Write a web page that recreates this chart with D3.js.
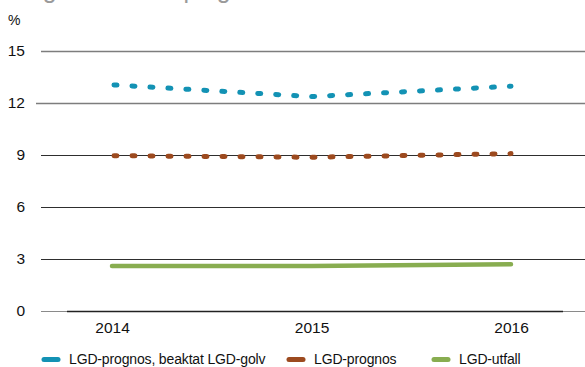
<!DOCTYPE html>
<html>
<head>
<meta charset="utf-8">
<script src="https://cdn.jsdelivr.net/npm/d3@7"></script>
<style>
  html, body { margin: 0; padding: 0; background: #fff; }
  svg { display: block; }
  text { font-family: "Liberation Sans", Arial, Helvetica, sans-serif; fill: #111; }
</style>
</head>
<body>
<svg id="chart" width="585" height="367"></svg>
<script>
// Years on the x axis
const years = [2014, 2015, 2016];
// LGD forecast taking the LGD floor into account (%)
const prognosGolv = [13.05, 12.37, 12.97];
// LGD forecast (%)
const prognos = [8.96, 8.87, 9.08];
// Realised LGD (%)
const utfall = [2.6, 2.6, 2.7];
// Y tick values
const yTicks = [0, 3, 6, 9, 12, 15];
// Legend labels
const seriesNames = ["LGD-prognos, beaktat LGD-golv", "LGD-prognos", "LGD-utfall"];
const seriesColors = ["#1392b4", "#9c4a1f", "#88ad50"];

const svg = d3.select("#chart");
const W = 585;

const x = d3.scaleLinear().domain([2014, 2016]).range([112, 511]);
const y = d3.scaleLinear().domain([0, 15]).range([311, 51]);

// Heading, running off the top edge
svg.append("text")
  .attr("x", 8).attr("y", -2.5)
  .style("font-size", "25px")
  .style("letter-spacing", "-0.9px")
  .style("fill", "#9a9a9a")
  .text("Diagram 1. LGD-prognos och LGD-utfall");

// Unit label
svg.append("text")
  .attr("x", 8).attr("y", 25)
  .style("font-size", "14px")
  .text("%");

// Horizontal gridlines
const gridColor = v => (v >= 12 ? "#7d7d7d" : "#2e2e2e");
svg.append("g")
  .selectAll("line")
  .data(yTicks)
  .join("line")
  .attr("x1", d => (d === 12 ? 36 : 41))
  .attr("x2", W)
  .attr("y1", d => Math.round(y(d)) + 0.5)
  .attr("y2", d => Math.round(y(d)) + 0.5)
  .attr("stroke", d => (d === 0 ? "#8a8a8a" : gridColor(d)))
  .attr("stroke-width", d => (d >= 12 ? 1.6 : 1.2));

// Darker baseline segment over the zero gridline
svg.append("line")
  .attr("x1", 67).attr("x2", 563)
  .attr("y1", Math.round(y(0)) + 0.5).attr("y2", Math.round(y(0)) + 0.5)
  .attr("stroke", "#222").attr("stroke-width", 1.4);

// Y axis labels
const yAxis = d3.axisLeft(y).tickValues(yTicks).tickSize(0).tickPadding(0);
const gy = svg.append("g").attr("transform", "translate(25,0)").call(yAxis);
gy.select(".domain").remove();
gy.selectAll("text")
  .style("font-size", "15.5px")
  .style("font-family", "'Liberation Sans', Arial, sans-serif")
  .attr("fill", "#111");

// X axis labels
const xAxis = d3.axisBottom(x).tickValues(years).tickFormat(d3.format("d")).tickSize(0).tickPadding(11);
const gx = svg.append("g").attr("transform", `translate(0,${y(0)})`).call(xAxis);
gx.select(".domain").remove();
gx.selectAll("text")
  .style("font-size", "15.5px")
  .style("font-family", "'Liberation Sans', Arial, sans-serif")
  .attr("fill", "#111");

// Series lines
const line = d3.line().x((d, i) => x(years[i])).y(d => y(d)).curve(d3.curveLinear);

svg.append("path")
  .datum(utfall)
  .attr("d", line)
  .attr("fill", "none")
  .attr("stroke", seriesColors[2])
  .attr("stroke-width", 4.5)
  .attr("stroke-linecap", "round");

svg.append("path")
  .datum(prognos)
  .attr("d", line)
  .attr("fill", "none")
  .attr("stroke", seriesColors[1])
  .attr("stroke-width", 5)
  .attr("stroke-linecap", "round")
  .attr("stroke-dasharray", "3,15")
  .attr("stroke-dashoffset", -2);

svg.append("path")
  .datum(prognosGolv)
  .attr("d", line)
  .attr("fill", "none")
  .attr("stroke", seriesColors[0])
  .attr("stroke-width", 5)
  .attr("stroke-linecap", "round")
  .attr("stroke-dasharray", "3,15")
  .attr("stroke-dashoffset", -2);

// Legend
const legendX = [44, 289, 434];
const lg = svg.append("g")
  .selectAll("g")
  .data(seriesNames)
  .join("g")
  .attr("transform", (d, i) => `translate(${legendX[i]},359.5)`);
lg.append("line")
  .attr("x1", 0).attr("x2", 14)
  .attr("y1", 0).attr("y2", 0)
  .attr("stroke", (d, i) => seriesColors[i])
  .attr("stroke-width", 5)
  .attr("stroke-linecap", "round");
lg.append("text")
  .attr("x", 25).attr("y", 4)
  .style("font-size", "14px")
  .style("letter-spacing", "-0.15px")
  .text(d => d);
</script>
</body>
</html>
